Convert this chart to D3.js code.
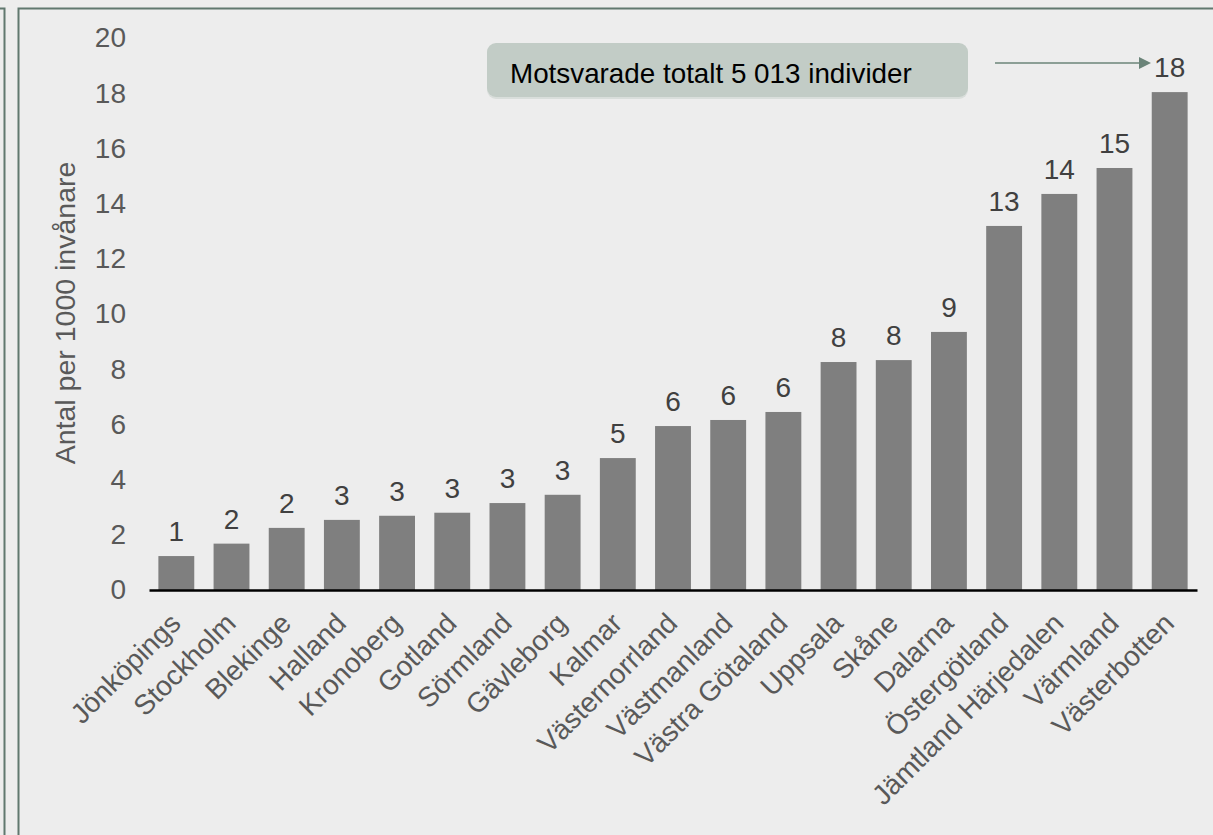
<!DOCTYPE html>
<html>
<head>
<meta charset="utf-8">
<script src="https://cdn.jsdelivr.net/npm/d3@7"></script>
<style>
  html, body { margin: 0; padding: 0; background: #ededed; }
  svg { display: block; }
  text { font-family: "Liberation Sans", Arial, sans-serif; }
</style>
</head>
<body>
<svg id="chart" width="1213" height="835"></svg>
<script>
const categories = ["Jönköpings", "Stockholm", "Blekinge", "Halland", "Kronoberg", "Gotland", "Sörmland", "Gävleborg", "Kalmar", "Västernorrland", "Västmanland", "Västra Götaland", "Uppsala", "Skåne", "Dalarna", "Östergötland", "Jämtland Härjedalen", "Värmland", "Västerbotten"];
const values = [1.23, 1.68, 2.25, 2.54, 2.69, 2.8, 3.15, 3.45, 4.78, 5.94, 6.16, 6.45, 8.26, 8.33, 9.35, 13.19, 14.35, 15.29, 18.04];
const yTicks = [0, 2, 4, 6, 8, 10, 12, 14, 16, 18, 20];
const yTitle = "Antal per 1000 invånare";
const annotation = "Motsvarade totalt 5 013 individer";

const svg = d3.select("#chart");
const W = 1213, H = 835;
const borderColor = "#61786f";

svg.append("rect").attr("width", W).attr("height", H).attr("fill", "#ededed");

// frames
svg.append("path")
  .attr("d", "M0,8.5 H4.5 V835")
  .attr("fill", "none").attr("stroke", borderColor).attr("stroke-width", 2);
svg.append("path")
  .attr("d", "M18.5,835 V8.5 H1213")
  .attr("fill", "none").attr("stroke", borderColor).attr("stroke-width", 2);

const x = d3.scaleBand().domain(categories).range([149, 1197]).paddingInner(0.35).paddingOuter(0.17);
const y = d3.scaleLinear().domain([0, 20]).range([590, 38]);

// y tick labels
const yAxis = d3.axisLeft(y).tickValues(yTicks).tickSize(0).tickPadding(0);
const gy = svg.append("g").attr("transform", "translate(126,0)").call(yAxis);
gy.select(".domain").remove();
gy.selectAll("text")
  .attr("font-size", 28).attr("fill", "#595959")
  .attr("font-family", "'Liberation Sans', Arial, sans-serif");

// y title
svg.append("text")
  .attr("transform", "translate(75,313) rotate(-90)")
  .attr("text-anchor", "middle")
  .attr("font-size", 28.5).attr("fill", "#595959")
  .text(yTitle);

// bars
svg.append("g").selectAll("rect").data(categories).join("rect")
  .attr("x", d => x(d))
  .attr("width", x.bandwidth())
  .attr("y", (d, i) => y(values[i]))
  .attr("height", (d, i) => y(0) - y(values[i]))
  .attr("fill", "#7f7f7f");

// value labels
const fmt = d3.format(".0f");
svg.append("g").selectAll("text").data(categories).join("text")
  .attr("x", d => x(d) + x.bandwidth() / 2)
  .attr("y", (d, i) => y(values[i]) - 15)
  .attr("text-anchor", "middle")
  .attr("font-size", 28).attr("fill", "#404040")
  .text((d, i) => fmt(values[i]));

// x axis
const xAxis = d3.axisBottom(x).tickSize(0).tickPadding(0);
const gx = svg.append("g").attr("transform", "translate(0,590)").call(xAxis);
gx.select(".domain").attr("stroke", "#000").attr("stroke-width", 2.5);
gx.selectAll(".tick text")
  .attr("font-size", 28).attr("fill", "#595959")
  .attr("font-family", "'Liberation Sans', Arial, sans-serif")
  .attr("text-anchor", "end")
  .attr("y", 0).attr("dy", 0)
  .attr("transform", "translate(6,35) rotate(-45)");

// annotation box
const ann = svg.append("g");
ann.append("rect")
  .attr("x", 487).attr("y", 45).attr("width", 481).attr("height", 54).attr("rx", 9)
  .attr("fill", "#d9dedb");
ann.append("rect")
  .attr("x", 487).attr("y", 43).attr("width", 481).attr("height", 54).attr("rx", 9)
  .attr("fill", "#c2ccc6");
ann.append("text")
  .attr("x", 510).attr("y", 83)
  .attr("font-size", 27.8).attr("fill", "#000")
  .text(annotation);

// arrow
svg.append("path")
  .attr("d", "M995,63 H1140")
  .attr("stroke", "#6b8479").attr("stroke-width", 1.5);
svg.append("path")
  .attr("d", "M1139,57 L1151,63 L1139,69 Z")
  .attr("fill", "#6b8479");
</script>
</body>
</html>
